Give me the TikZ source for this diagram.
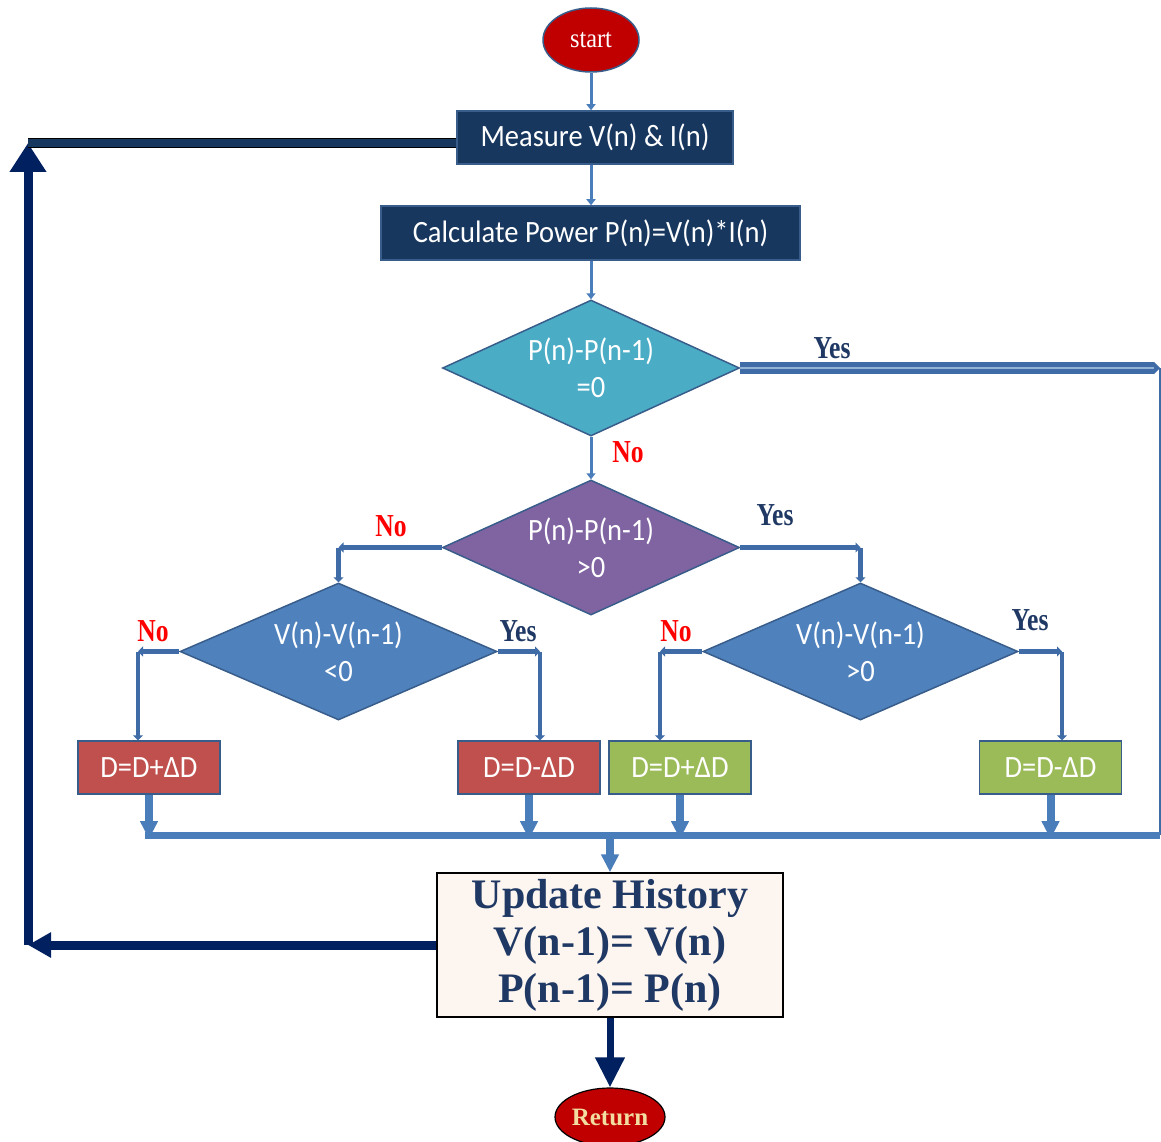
\documentclass[tikz,border=0pt]{standalone}
\usepackage{fontspec}
\setmainfont{Liberation Serif}
\newfontfamily\boxfont[FakeStretch=0.92]{Carlito}
\newfontfamily\labelfont[FakeStretch=0.8]{Liberation Serif}
\newfontfamily\startfont[FakeStretch=0.9]{Liberation Serif}
\usetikzlibrary{shapes.geometric,arrows.meta}

\definecolor{termred}{HTML}{C00000}
\definecolor{navyfill}{HTML}{17375E}
\definecolor{edgeblue}{HTML}{385D8A}
\definecolor{aquafill}{HTML}{4BACC6}
\definecolor{purplefill}{HTML}{8064A2}
\definecolor{bluefill}{HTML}{4F81BD}
\definecolor{redfill}{HTML}{C0504D}
\definecolor{greenfill}{HTML}{9BBB59}
\definecolor{linec}{HTML}{4A7EBB}
\definecolor{branchc}{HTML}{3F6CA6}
\definecolor{loopnavy}{HTML}{002060}
\definecolor{labelnavy}{HTML}{1F3864}
\definecolor{labelred}{HTML}{FF0000}
\definecolor{creamfill}{HTML}{FDF6F0}
\definecolor{returntext}{HTML}{F2DCA0}

\tikzset{
  boxtext/.style={font=\boxfont\fontsize{31}{37}\selectfont, text=white},
  navybox/.style={rectangle, boxtext, fill=navyfill, draw=edgeblue, line width=1.5pt, inner sep=0pt},
  decision/.style={diamond, boxtext, align=center, draw=edgeblue, line width=1.5pt, inner sep=0pt, aspect=2.2},
  dutybox/.style={rectangle, boxtext, draw=edgeblue, line width=1.5pt, inner sep=0pt,
    minimum width=142pt, minimum height=53pt},
  terminal/.style={ellipse, fill=termred, inner sep=0pt},
  yeslabel/.style={font=\labelfont\bfseries\fontsize{32}{36}\selectfont, text=labelnavy},
  nolabel/.style={font=\labelfont\bfseries\fontsize{32}{36}\selectfont, text=labelred},
  flow/.style={draw=linec, line width=3pt, -{Triangle[width=9pt,length=6pt]}},
  branch/.style={draw=branchc, line width=4.5pt, -{Triangle[width=10pt,length=5pt]}},
  drop/.style={draw=linec, line width=8pt, -{Triangle[width=17pt,length=18pt]}},
  loop/.style={draw=loopnavy, line width=9pt},
}

\begin{document}
\begin{tikzpicture}[x=1pt, y=-1pt]
  \useasboundingbox (0,0) rectangle (1161,1142);

  % top of the chart
  \node[terminal, draw=edgeblue, line width=1.5pt, minimum width=96pt, minimum height=64pt,
    font=\startfont\fontsize{27}{30}\selectfont, text=white] (start) at (591,40) {start};
  \node[navybox, minimum width=276pt, minimum height=53pt] (measure) at (595,137.5) {Measure V(n) \& I(n)};
  \node[navybox, minimum width=419pt, minimum height=54pt] (calc) at (590.5,233) {Calculate Power P(n)=V(n)*I(n)};

  % decisions
  \node[decision, fill=aquafill, minimum width=297pt, minimum height=136pt] (dzero) at (591,368) {P(n)-P(n-1)\\=0};
  \node[decision, fill=purplefill, minimum width=297pt, minimum height=135pt] (dpos) at (591,547.5) {P(n)-P(n-1)\\>0};
  \node[decision, fill=bluefill, minimum width=317pt, minimum height=137pt] (dvneg) at (338.5,651.5) {V(n)-V(n-1)\\<0};
  \node[decision, fill=bluefill, minimum width=315pt, minimum height=137pt] (dvpos) at (860.5,651.5) {V(n)-V(n-1)\\>0};

  % duty cycle steps
  \node[dutybox, fill=redfill] (incA) at (149,767.5) {D=D+ΔD};
  \node[dutybox, fill=redfill] (decA) at (529,767.5) {D=D-ΔD};
  \node[dutybox, fill=greenfill] (incB) at (680,767.5) {D=D+ΔD};
  \node[dutybox, fill=greenfill] (decB) at (1050.5,767.5) {D=D-ΔD};

  % update and return
  \node[rectangle, fill=creamfill, draw=black, line width=1.5pt, minimum width=346pt, minimum height=144pt,
    inner sep=0pt, align=center, text=labelnavy, font=\bfseries\fontsize{42}{47}\selectfont]
    (update) at (610,945) {Update History\\V(n-1)= V(n)\\P(n-1)= P(n)};
  \node[terminal, draw=black, line width=1.2pt, minimum width=110pt, minimum height=58pt,
    font=\bfseries\fontsize{25}{30}\selectfont, text=returntext] (return) at (610,1117) {Return};

  % corner points
  \coordinate (zeroR) at (1160,368);
  \coordinate (busR) at (1160,835);
  \coordinate (busL) at (145,835);
  \coordinate (posL) at (dvneg.north |- dpos.west);
  \coordinate (posR) at (dvpos.north |- dpos.east);
  \coordinate (vnegL) at (138,651.5);
  \coordinate (vnegR) at (540,651.5);
  \coordinate (vposL) at (660,651.5);
  \coordinate (vposR) at (1062,651.5);
  \coordinate (loopB) at (28,945);
  \coordinate (loopT) at (28,143);

  % main flow
  \draw[flow] (start.south) -- (start.south |- measure.north);
  \draw[flow] (start.south |- measure.south) -- (start.south |- calc.north);
  \draw[flow] (start.south |- calc.south) -- (dzero.north);
  \draw[flow] (dzero.south) -- (dpos.north);
  \draw[draw=branchc, line width=5pt, double=linec!60, double distance=2pt,
    -{Triangle[width=12pt,length=6pt]}] (dzero.east) -- (zeroR);
  \draw[draw=branchc, line width=2pt] (zeroR) -- (busR);

  % branches
  \draw[branch] (dpos.west) -- (posL);
  \draw[branch] (posL) -- (dvneg.north);
  \draw[branch] (dpos.east) -- (posR);
  \draw[branch] (posR) -- (dvpos.north);
  \draw[branch] (dvneg.west) -- (vnegL);
  \draw[branch] (vnegL) -- (vnegL |- incA.north);
  \draw[branch] (dvneg.east) -- (vnegR);
  \draw[branch] (vnegR) -- (vnegR |- decA.north);
  \draw[branch] (dvpos.west) -- (vposL);
  \draw[branch] (vposL) -- (vposL |- incB.north);
  \draw[branch] (dvpos.east) -- (vposR);
  \draw[branch] (vposR) -- (vposR |- decB.north);

  % collecting bus
  \draw[drop] (incA.south) -- ([yshift=-4pt]incA.south |- busL);
  \draw[drop] (decA.south) -- ([yshift=-4pt]decA.south |- busL);
  \draw[drop] (incB.south) -- ([yshift=-4pt]incB.south |- busL);
  \draw[drop] (decB.south) -- ([yshift=-4pt]decB.south |- busL);
  \draw[draw=linec, line width=7pt] (busL) -- (busR);
  \draw[drop] (update.north |- busL) -- (update.north);
  \draw[loop, line width=7pt, -{Triangle[width=28pt,length=30pt]}] (update.south) -- (return.north);

  % feedback loop
  \draw[loop, -{Triangle[width=24pt,length=23pt]}] (update.west) -- (loopB);
  \draw[loop, -{Triangle[width=35pt,length=29pt]}] (loopB) -- (loopT);
  \draw[draw=black, line width=1.2pt, double=navyfill, double distance=8pt] (loopT) -- (loopT -| measure.west);

  % labels
  \node[yeslabel] (yzero) at (832,348) {Yes};
  \node[nolabel] (nzero) at (628,452) {No};
  \node[nolabel] (npos) at (391,526) {No};
  \node[yeslabel] (ypos) at (775,515) {Yes};
  \node[nolabel] (nvneg) at (153,631) {No};
  \node[yeslabel] (yvneg) at (518,631) {Yes};
  \node[nolabel] (nvpos) at (676,631) {No};
  \node[yeslabel] (yvpos) at (1030,620) {Yes};
\end{tikzpicture}
\end{document}
